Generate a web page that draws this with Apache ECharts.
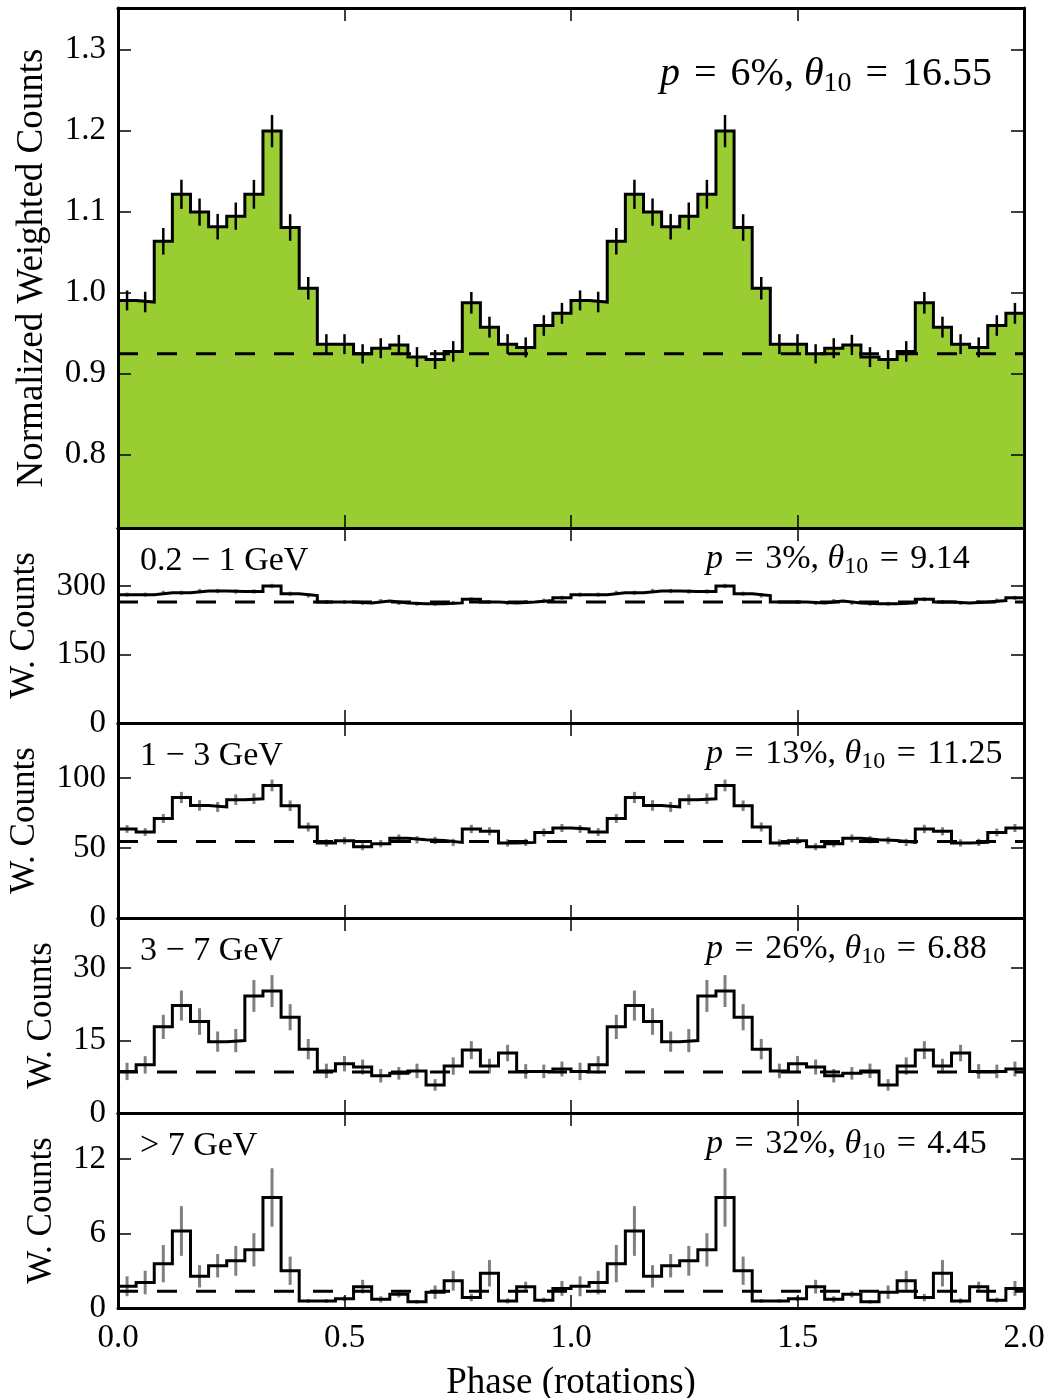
<!DOCTYPE html>
<html>
<head>
<meta charset="utf-8">
<script src="https://cdn.jsdelivr.net/npm/echarts@6/dist/echarts.min.js"></script>
<style>
  html, body { margin: 0; padding: 0; background: #ffffff; }
  #chart { width: 1048px; height: 1398px; }
</style>
</head>
<body>
<div id="chart"></div>
<script>
// Pulse profile: 25 phase bins per rotation, shown over two rotations.
const BIN_WIDTH = 0.04;
const ROTATIONS = 2;
const phaseTicks = [0, 0.5, 1.0, 1.5, 2.0];

// All energies, normalized weighted counts
const allCounts = [0.990, 0.988, 1.063, 1.121, 1.099, 1.081, 1.094, 1.121, 1.199, 1.080,
                   1.005, 0.936, 0.936, 0.924, 0.931, 0.935, 0.920, 0.917, 0.927, 0.987,
                   0.957, 0.936, 0.932, 0.959, 0.974];
const allErrors = [0.0123, 0.0127, 0.0164, 0.0180, 0.0168, 0.0158, 0.0168, 0.0178, 0.0199, 0.0164,
                   0.0139, 0.0123, 0.0123, 0.0119, 0.0123, 0.0125, 0.0123, 0.0117, 0.0127, 0.0133,
                   0.0129, 0.0123, 0.0123, 0.0127, 0.0129];
const allLevel = 0.924;
const allTicks = [0.8, 0.9, 1.0, 1.1, 1.2, 1.3];

// 0.2 - 1 GeV
const lowCounts = [281, 281, 285, 285, 289, 289, 288, 288, 300, 283,
                   279, 265, 265, 263, 267, 263, 261, 261, 263, 271,
                   265, 263, 265, 268, 274];
const lowErrors = [4.5, 4.5, 4.6, 4.6, 4.7, 4.7, 4.7, 4.7, 4.8, 4.6,
                   4.6, 4.4, 4.4, 4.4, 4.4, 4.4, 4.3, 4.3, 4.4, 4.5,
                   4.4, 4.4, 4.4, 4.5, 4.5];
const lowLevel = 265;
const lowTicks = [0, 150, 300];

// 1 - 3 GeV
const midCounts = [63.6, 61.4, 71.1, 86.1, 80.4, 79.3, 84.5, 85.2, 94.7, 80.2,
                   65.0, 53.6, 55.2, 50.9, 53.1, 56.9, 55.9, 55.4, 54.0, 63.6,
                   61.9, 53.6, 54.0, 61.1, 64.3];
const midErrors = [2.8, 2.8, 3.2, 4.0, 3.8, 3.6, 3.8, 3.8, 4.2, 3.8,
                   3.2, 2.6, 2.6, 2.5, 2.6, 2.8, 2.6, 2.6, 2.6, 3.0,
                   2.9, 2.6, 2.6, 2.8, 2.9];
const midLevel = 54.7;
const midTicks = [0, 50, 100];

// 3 - 7 GeV
const highCounts = [8.6, 9.95, 17.8, 22.2, 18.9, 14.75, 14.96, 24.2, 25.2, 19.8,
                    13.2, 8.7, 10.2, 9.5, 7.7, 8.2, 8.7, 5.8, 9.7, 13.0,
                    9.7, 12.4, 8.6, 8.6, 9.1];
const highErrors = [1.8, 1.8, 2.5, 3.1, 2.75, 2.1, 2.4, 3.3, 3.3, 2.7,
                    2.1, 1.5, 1.6, 1.55, 1.4, 1.3, 1.5, 1.2, 1.8, 1.85,
                    1.5, 1.7, 1.5, 1.4, 1.55];
const highLevel = 8.45;
const highTicks = [0, 15, 30];

// > 7 GeV
const topCounts = [1.75, 2.05, 3.57, 6.2, 2.55, 3.4, 3.8, 4.68, 8.9, 3.0,
                   0.57, 0.57, 0.75, 1.72, 0.7, 1.1, 0.5, 1.27, 2.2, 0.84,
                   2.8, 0.57, 1.72, 0.63, 1.58];
const topErrors = [0.8, 0.95, 1.5, 2.0, 0.9, 0.94, 1.2, 1.34, 2.35, 1.14,
                   0.15, 0.15, 0.2, 0.55, 0.25, 0.25, 0.15, 0.54, 0.8, 0.3,
                   1.07, 0.2, 0.4, 0.2, 0.6];
const topLevel = 1.35;
const topTicks = [0, 6, 12];

const FONT = 'Liberation Serif';
const GREEN = '#9acd32';
const GREY = '#808080';

const panels = [
  { counts: allCounts, errors: allErrors, level: allLevel, ticks: allTicks,
    min: 0.709, max: 1.351, top: 8, height: 520, fill: true,
    yName: 'Normalized Weighted Counts', nameSize: 37, nameGap: 67, fmt: v => v.toFixed(1),
    label: null, stat: ['6', '16.55'], statLeft: 660, statTop: 51, statSize: 40 },
  { counts: lowCounts, errors: lowErrors, level: lowLevel, ticks: lowTicks,
    min: 0, max: 427, top: 528, height: 195, fill: false,
    yName: 'W. Counts', nameSize: 35, nameGap: 76, fmt: v => String(v),
    label: '0.2 \u2212 1 GeV', stat: ['3', '9.14'], statLeft: 706, statTop: 539, statSize: 34 },
  { counts: midCounts, errors: midErrors, level: midLevel, ticks: midTicks,
    min: 0, max: 139.3, top: 723, height: 195, fill: false,
    yName: 'W. Counts', nameSize: 35, nameGap: 76, fmt: v => String(v),
    label: '1 \u2212 3 GeV', stat: ['13', '11.25'], statLeft: 706, statTop: 734, statSize: 34 },
  { counts: highCounts, errors: highErrors, level: highLevel, ticks: highTicks,
    min: 0, max: 40.3, top: 918, height: 195, fill: false,
    yName: 'W. Counts', nameSize: 35, nameGap: 59, fmt: v => String(v),
    label: '3 \u2212 7 GeV', stat: ['26', '6.88'], statLeft: 706, statTop: 929, statSize: 34 },
  { counts: topCounts, errors: topErrors, level: topLevel, ticks: topTicks,
    min: 0, max: 15.7, top: 1113, height: 195, fill: false,
    yName: 'W. Counts', nameSize: 35, nameGap: 59, fmt: v => String(v),
    label: '> 7 GeV', stat: ['32', '4.45'], statLeft: 706, statTop: 1124, statSize: 34 }
];

const xMax = ROTATIONS;

function repeatRotations(arr) {
  let out = [];
  for (let r = 0; r < ROTATIONS; r++) out = out.concat(arr);
  return out;
}

// Step outline: one point per left bin edge, plus the closing right edge.
function stepData(counts) {
  const vals = repeatRotations(counts);
  const pts = vals.map((v, i) => [i * BIN_WIDTH, v]);
  pts.push([vals.length * BIN_WIDTH, vals[vals.length - 1]]);
  return pts;
}

function errorData(counts, errors) {
  const vals = repeatRotations(counts);
  const errs = repeatRotations(errors);
  return vals.map((v, i) => [(i + 0.5) * BIN_WIDTH, v, errs[i]]);
}

const grids = [], xAxes = [], yAxes = [], series = [], titles = [];
const lineAxis = { show: true, onZero: false, lineStyle: { color: '#000', width: 3 } };
const tickStyle = { show: true, inside: true, length: 13, lineStyle: { color: '#000', width: 1.5 } };

panels.forEach((p, k) => {
  const last = k === panels.length - 1;
  grids.push({ left: 118, width: 906, top: p.top, height: p.height, show: false,
               containLabel: false, outerBoundsMode: 'none' });

  // bottom and top x axes
  xAxes.push({
    type: 'value', gridIndex: k, position: 'bottom', min: 0, max: xMax, interval: 0.5, z: 10,
    axisLine: lineAxis, axisTick: Object.assign({ customValues: phaseTicks }, tickStyle),
    splitLine: { show: false },
    axisLabel: { show: last, customValues: phaseTicks, margin: 14, color: '#000', fontFamily: FONT,
                 fontSize: 33, formatter: v => v.toFixed(1) },
    name: last ? 'Phase (rotations)' : '', nameLocation: 'middle', nameGap: 57,
    nameTextStyle: { color: '#000', fontFamily: FONT, fontSize: 37 }
  });
  xAxes.push({
    type: 'value', gridIndex: k, position: 'top', min: 0, max: xMax, interval: 0.5, z: 10,
    axisLine: lineAxis, axisTick: Object.assign({ customValues: phaseTicks }, tickStyle),
    splitLine: { show: false }, axisLabel: { show: false }
  });

  // left and right y axes
  yAxes.push({
    type: 'value', gridIndex: k, position: 'left', min: p.min, max: p.max, z: 10,
    axisLine: lineAxis, axisTick: Object.assign({ customValues: p.ticks }, tickStyle),
    splitLine: { show: false },
    axisLabel: { customValues: p.ticks, margin: 12, color: '#000', fontFamily: FONT, fontSize: 33,
                 formatter: p.fmt },
    name: p.yName, nameLocation: 'middle', nameGap: p.nameGap,
    nameTextStyle: { color: '#000', fontFamily: FONT, fontSize: p.nameSize }
  });
  yAxes.push({
    type: 'value', gridIndex: k, position: 'right', min: p.min, max: p.max, z: 10,
    axisLine: lineAxis, axisTick: Object.assign({ customValues: p.ticks }, tickStyle),
    splitLine: { show: false }, axisLabel: { show: false }
  });

  const xi = 2 * k, yi = 2 * k;

  series.push({
    type: 'line', xAxisIndex: xi, yAxisIndex: yi, step: 'end',
    data: stepData(p.counts), symbol: 'none', showSymbol: false,
    lineStyle: { color: '#000', width: 3, join: 'miter' },
    areaStyle: p.fill ? { color: GREEN, opacity: 1, origin: 'start' } : undefined,
    z: 3, animation: false, silent: true
  });

  const barColor = p.fill ? '#000' : GREY;
  const barWidth = p.fill ? 2.5 : 3;
  series.push({
    type: 'custom', xAxisIndex: xi, yAxisIndex: yi, clip: true,
    data: errorData(p.counts, p.errors), encode: { x: 0, y: 1 },
    renderItem: (params, api) => {
      const x = api.value(0), y = api.value(1), e = api.value(2);
      const a = api.coord([x, y - e]), b = api.coord([x, y + e]);
      return { type: 'line', shape: { x1: a[0], y1: a[1], x2: b[0], y2: b[1] },
               style: { stroke: barColor, lineWidth: barWidth } };
    },
    z: p.fill ? 4 : 2, animation: false, silent: true
  });

  series.push({
    type: 'line', xAxisIndex: xi, yAxisIndex: yi,
    data: [[0, p.level], [xMax, p.level]], symbol: 'none', showSymbol: false,
    lineStyle: { color: '#000', width: 3, type: [20, 19] },
    z: 5, animation: false, silent: true
  });

  const gap = Math.round(p.statSize * 0.1);
  const rich = {
    i: { fontFamily: FONT, fontStyle: 'italic', fontSize: p.statSize, color: '#000' },
    e: { fontFamily: FONT, fontSize: p.statSize, color: '#000', padding: [0, gap, 0, gap] },
    s: { fontFamily: FONT, fontSize: Math.round(p.statSize * 0.7), color: '#000',
         padding: [Math.round(p.statSize * 0.48), 0, 0, 0] }
  };
  titles.push({
    left: p.statLeft, top: p.statTop, padding: 0,
    text: '{i|p} {e|=} ' + p.stat[0] + '%, {i|\u03b8}{s|10} {e|=} ' + p.stat[1],
    textStyle: { fontFamily: FONT, fontSize: p.statSize, fontWeight: 'normal', color: '#000', rich: rich }
  });
  if (p.label) {
    titles.push({
      left: 140, top: p.top + 16, padding: 0, text: p.label,
      textStyle: { fontFamily: FONT, fontSize: 34, fontWeight: 'normal', color: '#000' }
    });
  }
});

const chart = echarts.init(document.getElementById('chart'), null, { renderer: 'canvas' });
chart.setOption({
  backgroundColor: '#ffffff',
  animation: false,
  title: titles,
  grid: grids,
  xAxis: xAxes,
  yAxis: yAxes,
  series: series
});
</script>
</body>
</html>
